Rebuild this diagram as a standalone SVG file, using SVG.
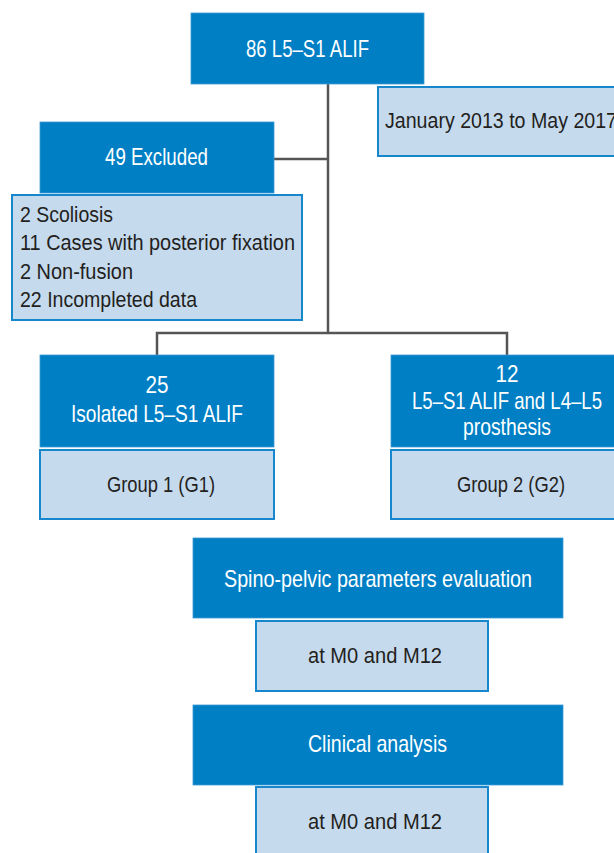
<svg xmlns="http://www.w3.org/2000/svg" width="614" height="853" viewBox="0 0 614 853">
<style>
.b{fill:#007fc5;stroke:#3d9bd6;stroke-width:0.8}
.l{fill:#c6daee;stroke:#1686cd;stroke-width:2}
.tw{fill:#ffffff;font-family:"Liberation Sans",Arial,sans-serif;font-size:24px}
.td{fill:#231f20;font-family:"Liberation Sans",Arial,sans-serif;font-size:22px}
.c{stroke:#555;stroke-width:2.5;fill:none}
</style>
<rect width="614" height="853" fill="#ffffff"/>
<g id="connectors">
<path class="c" d="M328 84V333M274 159H328M157 355V333H507V355"/>
</g>
<g id="n-total">
<rect class="b" x="191" y="13" width="233" height="71"/>
<text class="tw" x="307.5" y="57" text-anchor="middle" textLength="123" lengthAdjust="spacingAndGlyphs">86 L5–S1 ALIF</text>
</g>
<g id="n-date">
<rect class="l" x="378" y="87" width="250" height="69"/>
<text class="td" x="385" y="128" textLength="232" lengthAdjust="spacingAndGlyphs">January 2013 to May 2017</text>
</g>
<g id="n-excluded">
<rect class="b" x="40" y="122" width="234" height="71"/>
<text class="tw" x="156.5" y="165" text-anchor="middle" textLength="103" lengthAdjust="spacingAndGlyphs">49 Excluded</text>
</g>
<g id="n-reasons">
<rect class="l" x="12" y="195" width="290" height="125"/>
<text class="td" x="20" y="222" textLength="93" lengthAdjust="spacingAndGlyphs">2 Scoliosis</text>
<text class="td" x="20" y="250" textLength="275" lengthAdjust="spacingAndGlyphs">11 Cases with posterior fixation</text>
<text class="td" x="20" y="279" textLength="113" lengthAdjust="spacingAndGlyphs">2 Non-fusion</text>
<text class="td" x="20" y="307" textLength="177" lengthAdjust="spacingAndGlyphs">22 Incompleted data</text>
</g>
<g id="n-g1">
<rect class="b" x="40" y="355" width="234" height="92"/>
<text class="tw" x="157" y="393" text-anchor="middle" textLength="23" lengthAdjust="spacingAndGlyphs">25</text>
<text class="tw" x="157" y="422" text-anchor="middle" textLength="172" lengthAdjust="spacingAndGlyphs">Isolated L5–S1 ALIF</text>
</g>
<g id="n-g1-label">
<rect class="l" x="40" y="450" width="234" height="69"/>
<text class="td" x="161" y="492" text-anchor="middle" textLength="108" lengthAdjust="spacingAndGlyphs">Group 1 (G1)</text>
</g>
<g id="n-g2">
<rect class="b" x="391" y="355" width="234" height="92"/>
<text class="tw" x="507" y="382" text-anchor="middle" textLength="23" lengthAdjust="spacingAndGlyphs">12</text>
<text class="tw" x="507" y="409" text-anchor="middle" textLength="190" lengthAdjust="spacingAndGlyphs">L5–S1 ALIF and L4–L5</text>
<text class="tw" x="507" y="435" text-anchor="middle" textLength="88" lengthAdjust="spacingAndGlyphs">prosthesis</text>
</g>
<g id="n-g2-label">
<rect class="l" x="391" y="450" width="234" height="69"/>
<text class="td" x="511" y="492" text-anchor="middle" textLength="108" lengthAdjust="spacingAndGlyphs">Group 2 (G2)</text>
</g>
<g id="n-spino">
<rect class="b" x="193" y="538" width="370" height="80"/>
<text class="tw" x="378" y="587" text-anchor="middle" textLength="308" lengthAdjust="spacingAndGlyphs">Spino-pelvic parameters evaluation</text>
</g>
<g id="n-spino-time">
<rect class="l" x="256" y="621" width="232" height="70"/>
<text class="td" x="375" y="663" text-anchor="middle" textLength="134" lengthAdjust="spacingAndGlyphs">at M0 and M12</text>
</g>
<g id="n-clinical">
<rect class="b" x="193" y="705" width="370" height="80"/>
<text class="tw" x="377.5" y="752" text-anchor="middle" textLength="139" lengthAdjust="spacingAndGlyphs">Clinical analysis</text>
</g>
<g id="n-clinical-time">
<rect class="l" x="256" y="787" width="232" height="80"/>
<text class="td" x="375" y="829" text-anchor="middle" textLength="134" lengthAdjust="spacingAndGlyphs">at M0 and M12</text>
</g>
</svg>
